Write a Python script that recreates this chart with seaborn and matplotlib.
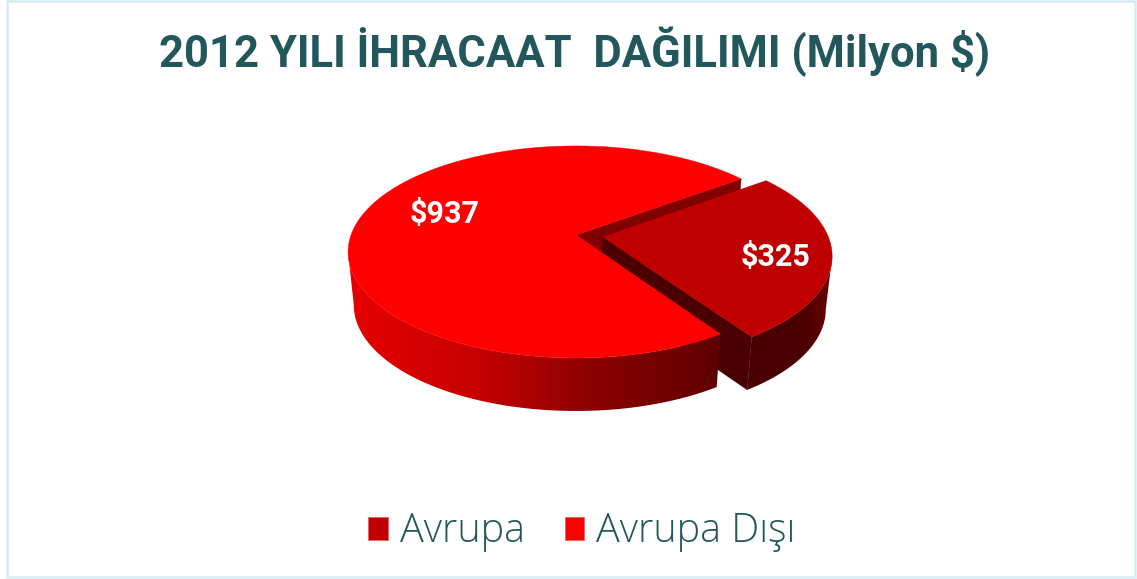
import numpy as np
import matplotlib
matplotlib.use("Agg")
import matplotlib.pyplot as plt
from matplotlib.patches import Patch, Polygon, Rectangle
import seaborn as sns

categories = ["Avrupa", "Avrupa Dışı"]
values = [325, 937]
value_labels = ["$325", "$937"]
title = "2012 YILI İHRACAAT  DAĞILIMI (Milyon $)"

top_colors = ["#c00000", "#ff0000"]
text_color = "#22575c"

# pie geometry, in pixels of the figure
cx, cy = 576, 235
rx, ry = 225, 103.3
persp = 0.16
depth = 53
taper = 0.025
start_angle = 53.5
explode = 0.12

sns.set_theme(style="white")
plt.rcParams["font.family"] = ["Roboto", "DejaVu Sans"]


def project(theta, r=1.0, z=0.0, off=(0.0, 0.0)):
    # theta in degrees, clockwise from the back of the pie
    t = np.radians(theta)
    x = r * np.sin(t) + off[0]
    y = r * np.cos(t) + off[1]
    s = 1 / (1 + persp * y)
    return cx + rx * x * s * (1 - taper * z), cy - ry * y * s + depth * z


def silhouette(a0, a1, pick, off=(0.0, 0.0)):
    th = np.linspace(a0, a1, 400)
    return th[pick(project(th, off=off)[0])]


def top_face(ax, a0, a1, color, zorder, off=(0.0, 0.0)):
    th = np.linspace(a0, a1, 200)
    ox, oy = project(th, off=off)
    ax0, ay0 = project(0.0, r=0.0, off=off)
    ax.fill(np.r_[ax0, ox], np.r_[ay0, oy], color=color, lw=0.3, zorder=zorder)


def wall(ax, angle, color, zorder, off=(0.0, 0.0)):
    x0, y0 = project(angle, r=0.0, off=off)
    x1, y1 = project(angle, off=off)
    x2, y2 = project(angle, z=1.0, off=off)
    x3, y3 = project(angle, r=0.0, z=1.0, off=off)
    ax.fill([x0, x1, x2, x3], [y0, y1, y2, y3], color=color, lw=0.3, zorder=zorder)


def side(ax, a0, a1, colors, zorder, off=(0.0, 0.0)):
    # outer rim with a left-right gradient, clipped to the rim's shape
    th = np.linspace(a0, a1, 200)
    xa, ya = project(th, off=off)
    xb, yb = project(th[::-1], z=1.0, off=off)
    poly = Polygon(np.c_[np.r_[xa, xb], np.r_[ya, yb]], closed=True, transform=ax.transData,
                   fc="none", ec="none")
    ax.add_patch(poly)
    img = ax.imshow(np.array(colors)[None, :, :], aspect="auto", interpolation="bilinear",
                    extent=(min(xa.min(), xb.min()), max(xa.max(), xb.max()), 579, 0),
                    zorder=zorder)
    img.set_clip_path(poly)


fig, ax = plt.subplots(figsize=(11.37, 5.79), dpi=100)
fig.subplots_adjust(0, 0, 1, 1)

sweep = 360 * values[0] / sum(values)
a0 = start_angle
a1 = start_angle + sweep
mid = np.radians((a0 + a1) / 2)
off = (explode * np.sin(mid), explode * np.cos(mid))

red_side = sns.blend_palette(["#e60000", "#c80000", "#8a0000", "#5e0000"], 200)
dark_side = sns.blend_palette(["#4a0000", "#4a0000", "#4a0000", "#6a0000"], 100)

# back to front
wall(ax, a0, "#800000", 1)
wall(ax, a1, "#4a0000", 2, off=off)
side(ax, silhouette(a0, a1, np.argmax, off=off), a1, dark_side, 3, off=off)
top_face(ax, a0, a1, top_colors[0], 4, off=off)
side(ax, a1, silhouette(a1, a0 + 360, np.argmin), red_side, 5)
top_face(ax, a1, a0 + 360, top_colors[1], 6)

ax.set_xlim(0, 1137)
ax.set_ylim(579, 0)
ax.axis("off")

ax.add_patch(Rectangle((7, 1), 1128, 576, fill=False, ec="#d6edf2", lw=1.8))

ax.text(775, 257, value_labels[0], color="white", fontsize=22, fontweight="bold",
        ha="center", va="center", parse_math=False, zorder=7)
ax.text(445, 214, value_labels[1], color="white", fontsize=22, fontweight="bold",
        ha="center", va="center", parse_math=False, zorder=7)

ax.text(575, 52, title, color=text_color, fontsize=31.4, fontweight="bold",
        ha="center", va="center", parse_math=False)

handles = [Patch(facecolor=c, edgecolor="#e86060", lw=0.6) for c in top_colors]
leg = ax.legend(handles, categories, loc="center", bbox_to_anchor=(582, 532),
                bbox_transform=ax.transData, ncol=2, frameon=False,
                handlelength=0.5, handleheight=0.5, handletextpad=0.3,
                columnspacing=1.0, prop={"family": "Open Sans", "size": 28.5, "weight": "light"})
for t in leg.get_texts():
    t.set_color(text_color)

fig.savefig("out.png", dpi=100)
